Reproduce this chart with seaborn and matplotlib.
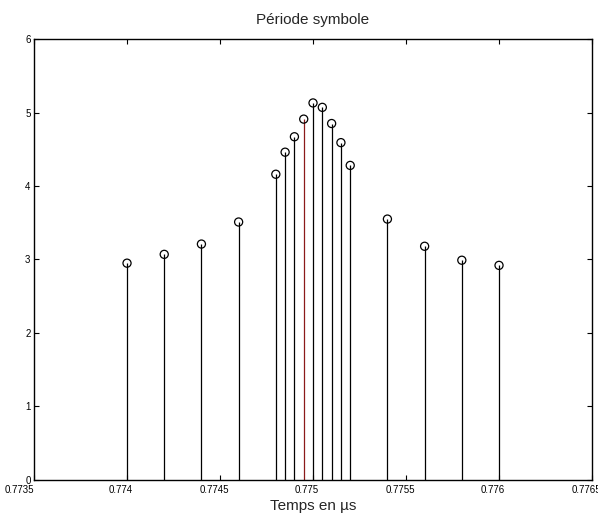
import pandas as pd
import seaborn as sns
import matplotlib
matplotlib.use('Agg')
import matplotlib.pyplot as plt
from matplotlib.transforms import ScaledTranslation

# Valeurs
temps = [0.7740, 0.7742, 0.7744, 0.7746, 0.7748, 0.77485, 0.7749, 0.77495,
         0.7750, 0.77505, 0.7751, 0.77515, 0.7752, 0.7754, 0.7756, 0.7758, 0.7760]
amplitude = [2.95, 3.07, 3.21, 3.51, 4.16, 4.46, 4.67, 4.91,
             5.13, 5.07, 4.85, 4.59, 4.28, 3.55, 3.18, 2.99, 2.92]
# la période symbole repérée en rouge
couleurs = ['black'] * 7 + ['#8b1a1a'] + ['black'] * 9

x_ticks = [0.7735, 0.774, 0.7745, 0.775, 0.7755, 0.776, 0.7765]
x_labels = ['0.7735', '0.774', '0.7745', '0.775', '0.7755', '0.776', '0.7765']
y_ticks = [0, 1, 2, 3, 4, 5, 6]

data = pd.DataFrame({'t': temps, 'a': amplitude})

sns.set_style('ticks')
plt.rcParams['font.family'] = ['Liberation Sans', 'DejaVu Sans']

fig = plt.figure(figsize=(5.98, 5.18), dpi=100)
ax = fig.add_axes([0.0569, 0.0734, 0.9331, 0.8513])

# tiges
ax.vlines(data['t'], 0, data['a'], colors=couleurs, linewidth=0.9, zorder=2)
# cercles
sns.scatterplot(data=data, x='t', y='a', ax=ax, marker='o', s=34,
                facecolor='none', edgecolor='black', linewidth=0.9, zorder=3)

ax.set_xlim(0.7735, 0.7765)
ax.set_ylim(0, 6)
ax.set_xticks(x_ticks)
ax.set_xticklabels(x_labels)
ax.set_yticks(y_ticks)

ax.tick_params(direction='in', length=3.5, width=0.8, labelsize=7,
               top=True, right=True, pad=2.5, colors='black')
ax.tick_params(axis='x', pad=3.5)
for s in ax.spines.values():
    s.set_visible(True)
    s.set_linewidth(1.0)
    s.set_color('black')

# étiquettes de l'axe x légèrement décalées vers la gauche, comme l'original
decal = ScaledTranslation(-6 / 100, 0, fig.dpi_scale_trans)
for lab in ax.get_xticklabels():
    lab.set_transform(lab.get_transform() + decal)
premier = ax.get_xticklabels()[0]
premier.set_horizontalalignment('right')
premier.set_transform(premier.get_transform() + ScaledTranslation(6 / 100, 0, fig.dpi_scale_trans))

ax.set_title('Période symbole', fontsize=11, pad=11)
ax.set_xlabel('Temps en µs', fontsize=11, labelpad=3)
ax.set_ylabel('')

plt.savefig('out.png', dpi=100)
